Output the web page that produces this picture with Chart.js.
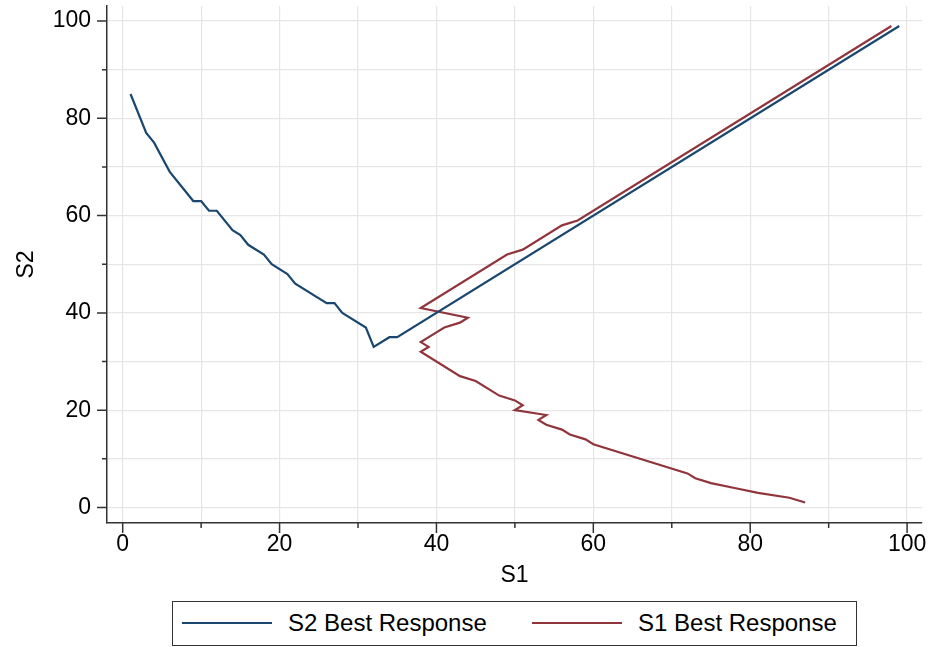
<!DOCTYPE html>
<html><head><meta charset="utf-8">
<script src="https://cdn.jsdelivr.net/npm/chart.js@4.4.1/dist/chart.umd.min.js"></script>
<style>
html,body{margin:0;padding:0;background:#fff;}
#wrap{width:931px;height:647px;position:relative;overflow:hidden;}
#c{position:absolute;left:0;top:0;}
#legend{position:absolute;left:172px;top:601px;width:685px;height:45px;box-sizing:border-box;border:1.5px solid #333;background:#fff;font-family:'Liberation Sans',Arial,Helvetica,sans-serif;font-size:24px;color:#000;}
.item{position:absolute;top:0;height:42px;display:flex;align-items:center;white-space:nowrap;}
.swatch{display:inline-block;width:90px;height:2px;margin-right:16px;}
</style>
</head><body>
<div id="wrap"><canvas id="c" width="931" height="647"></canvas><div id="legend"></div></div>
<script>
// ---- data ----
const seriesNames = ['S2 Best Response', 'S1 Best Response'];
const s2BestX = [1, 3, 4, 6, 9, 10, 11, 12, 14, 15, 16, 18, 19, 21, 22, 26, 27, 28, 31, 32, 34, 35, 99];
const s2BestY = [85, 77, 75, 69, 63, 63, 61, 61, 57, 56, 54, 52, 50, 48, 46, 42, 42, 40, 37, 33, 35, 35, 99];
const s1BestX = [98, 58, 56, 51, 49, 38, 44, 43, 41, 40, 38, 39, 38, 43, 45, 48, 50, 51, 50, 54, 53, 54, 56, 57, 59, 60, 72, 73, 75, 78, 81, 85, 87];
const s1BestY = [99, 59, 58, 53, 52, 41, 39, 38, 37, 36, 34, 33, 32, 27, 26, 23, 22, 21, 20, 19, 18, 17, 16, 15, 14, 13, 7, 6, 5, 4, 3, 2, 1];
const gridTicks = [0, 10, 20, 30, 40, 50, 60, 70, 80, 90, 100];
const labelTicks = [0, 20, 40, 60, 80, 100];
const xTitle = 'S1';
const yTitle = 'S2';
const seriesColors = ['#1a476f', '#90353b'];

const toPoints = (xs, ys) => xs.map((x, i) => ({x: x, y: ys[i]}));
const FONT = "'Liberation Sans', Arial, Helvetica, sans-serif";

const tickMarks = {
  id: 'tickMarks',
  afterDraw(chart) {
    const {ctx, chartArea: ca, scales: {x, y}} = chart;
    ctx.save();
    ctx.strokeStyle = '#333';
    ctx.lineWidth = 1.5;
    ctx.beginPath();
    gridTicks.forEach(v => {
      const len = labelTicks.includes(v) ? 10 : 5;
      const px = x.getPixelForValue(v);
      ctx.moveTo(px, ca.bottom);
      ctx.lineTo(px, ca.bottom + len);
      const py = y.getPixelForValue(v);
      ctx.moveTo(ca.left, py);
      ctx.lineTo(ca.left - len, py);
    });
    ctx.stroke();
    ctx.restore();
  }
};

function setTicks(scale) {
  scale.ticks = gridTicks.map(v => ({value: v}));
}
const tickLabel = v => labelTicks.includes(v) ? String(v) : '';

const chart = new Chart(document.getElementById('c'), {
  type: 'scatter',
  data: {
    datasets: [
      {label: seriesNames[0], data: toPoints(s2BestX, s2BestY), showLine: true, borderColor: seriesColors[0], backgroundColor: seriesColors[0], borderWidth: 2.2, pointRadius: 0, tension: 0, fill: false},
      {label: seriesNames[1], data: toPoints(s1BestX, s1BestY), showLine: true, borderColor: seriesColors[1], backgroundColor: seriesColors[1], borderWidth: 2.2, pointRadius: 0, tension: 0, fill: false}
    ]
  },
  options: {
    responsive: false,
    animation: false,
    devicePixelRatio: 1,
    layout: {padding: {left: 0, right: 9, top: 6, bottom: 44}},
    plugins: {legend: {display: false}, tooltip: {enabled: false}},
    scales: {
      x: {
        type: 'linear', min: -2, max: 101.9,
        afterBuildTicks: setTicks,
        afterFit(s) { s.height = 80; s.paddingLeft = 0; s.paddingRight = 0; },
        grid: {color: '#e6e6e6', lineWidth: 1.2, drawTicks: false},
        border: {display: true, color: '#333', width: 1.5},
        ticks: {autoSkip: false, maxRotation: 0, padding: 8, color: '#000', font: {family: FONT, size: 23}, callback: tickLabel},
        title: {display: true, text: xTitle, color: '#000', font: {family: FONT, size: 23}, padding: {top: 0, bottom: 14}}
      },
      y: {
        type: 'linear', min: -3.2, max: 103.1,
        afterBuildTicks: setTicks,
        afterFit(s) { s.width = 107; s.paddingTop = 0; s.paddingBottom = 0; },
        grid: {color: '#e6e6e6', lineWidth: 1.2, drawTicks: false},
        border: {display: true, color: '#333', width: 1.5},
        ticks: {autoSkip: false, padding: 16, color: '#000', font: {family: FONT, size: 23}, callback: tickLabel},
        title: {display: true, text: yTitle, color: '#000', font: {family: FONT, size: 23}, padding: {top: 13, bottom: 0}}
      }
    }
  },
  plugins: [tickMarks]
});

// HTML legend built from the chart's datasets
const legendEl = document.getElementById('legend');
const itemLefts = [9, 359];
chart.data.datasets.forEach((ds, i) => {
  const item = document.createElement('div');
  item.className = 'item';
  item.style.left = itemLefts[i] + 'px';
  const sw = document.createElement('span');
  sw.className = 'swatch';
  sw.style.background = ds.borderColor;
  const tx = document.createElement('span');
  tx.textContent = ds.label;
  item.appendChild(sw);
  item.appendChild(tx);
  legendEl.appendChild(item);
});
</script>
</body></html>
